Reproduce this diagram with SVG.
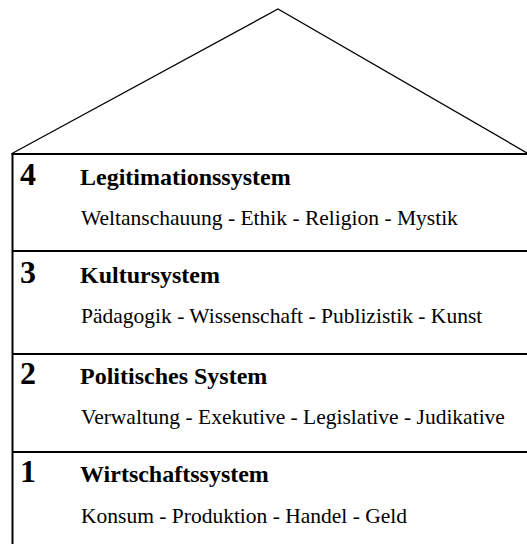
<svg xmlns="http://www.w3.org/2000/svg" width="527" height="544" viewBox="0 0 527 544">
<style>
.roof{fill:none;stroke:#000;stroke-width:1.3}
.line{fill:none;stroke:#000;stroke-width:2}
.num{font-family:"Liberation Serif","Times New Roman",serif;font-weight:bold;font-size:32px;fill:#000}
.title{font-family:"Liberation Serif","Times New Roman",serif;font-weight:bold;font-size:24px;fill:#000}
.sub{font-family:"Liberation Serif","Times New Roman",serif;font-size:21.5px;fill:#000}
</style>
<rect width="527" height="544" fill="#fff"/>
<g id="roof">
<polyline class="roof" points="12,153.5 278,9 528,153.5"/>
</g>
<g id="frame">
<line class="line" x1="12.5" y1="153" x2="12.5" y2="544"/>
<line class="line" x1="11.5" y1="154" x2="527" y2="154"/>
<line class="line" x1="12" y1="251" x2="527" y2="251"/>
<line class="line" x1="12" y1="354" x2="527" y2="354"/>
<line class="line" x1="12" y1="452" x2="527" y2="452"/>
</g>
<g id="level4">
<text class="num" x="20" y="185">4</text>
<text class="title" x="80" y="185">Legitimationssystem</text>
<text class="sub" x="81" y="225">Weltanschauung - Ethik - Religion - Mystik</text>
</g>
<g id="level3">
<text class="num" x="20" y="283">3</text>
<text class="title" x="80" y="283">Kultursystem</text>
<text class="sub" x="81" y="323">Pädagogik - Wissenschaft - Publizistik - Kunst</text>
</g>
<g id="level2">
<text class="num" x="20" y="384">2</text>
<text class="title" x="80" y="384">Politisches System</text>
<text class="sub" x="81" y="424">Verwaltung - Exekutive - Legislative - Judikative</text>
</g>
<g id="level1">
<text class="num" x="20" y="482">1</text>
<text class="title" x="80" y="482">Wirtschaftssystem</text>
<text class="sub" x="81" y="523">Konsum - Produktion - Handel - Geld</text>
</g>
</svg>
